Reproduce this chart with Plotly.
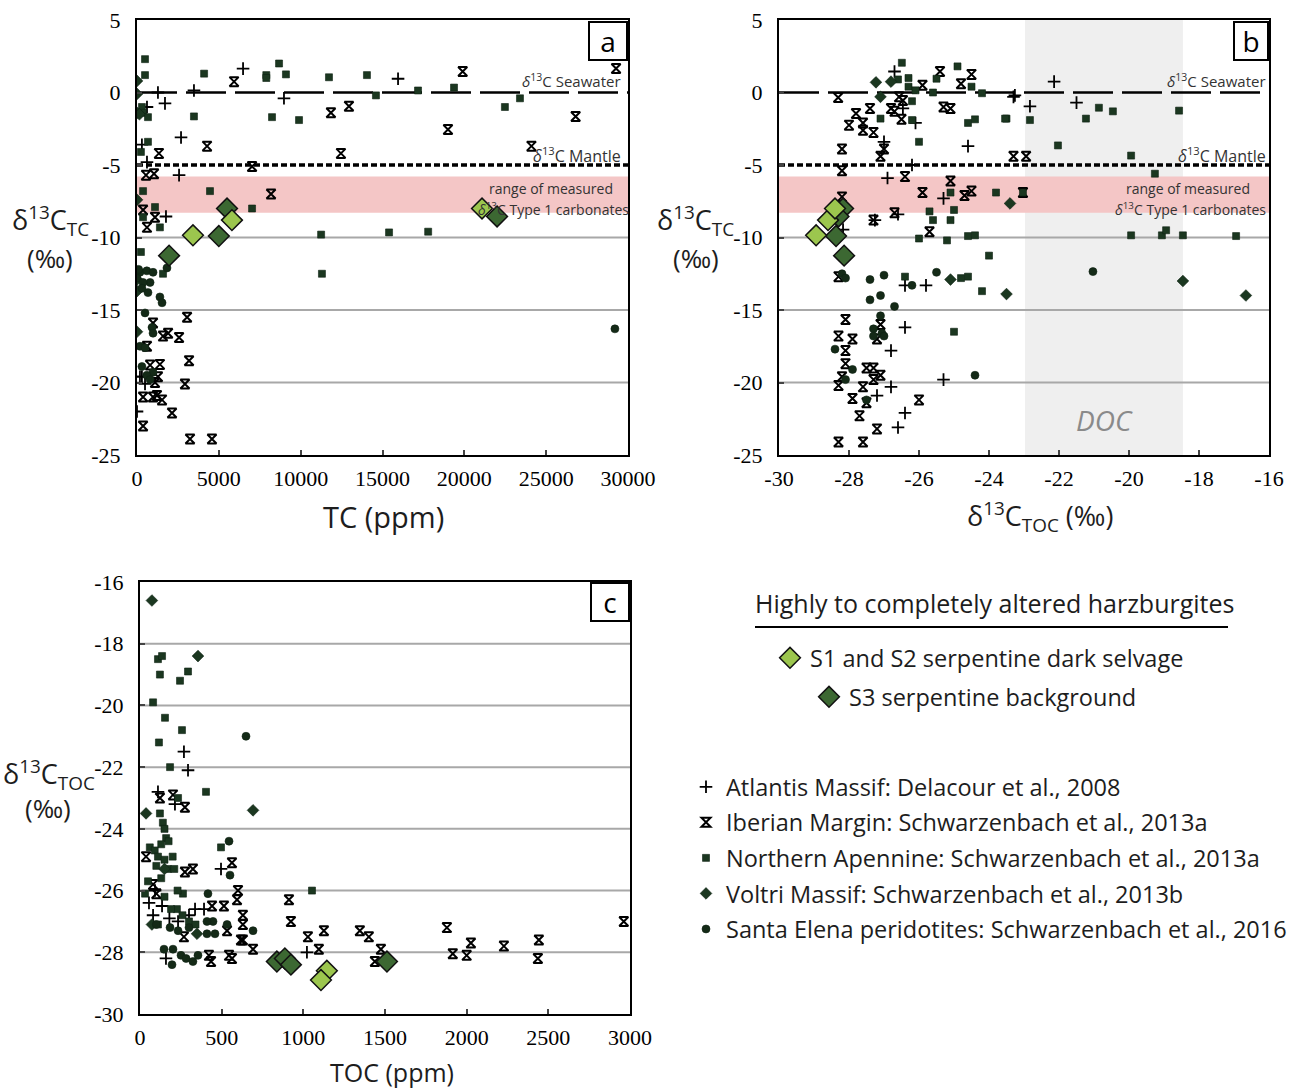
import plotly.graph_objects as go

# ---------------- DATA ----------------
# Panel a: TC (ppm) vs d13C_TC
a_atl_x = [6480, 3480, 1280, 1710, 8980, 15950, 2690, 300, 610, 2570, 1770, 300, 490, 0, 610, 180]
a_atl_y = [1.65, 0.14, 0.0, -0.75, -0.4, 0.95, -3.1, -3.6, -4.8, -5.7, -8.55, -19.6, -20.1, -22.0, -1.0, -19.6]
a_ibe_x = [5930, 11850, 12950, 4280, 1340, 12460, 7030, 550, 1040, 8190, 370, 1100, 610, 19900, 19000, 26800,
           29270, 24100, 3060, 1590, 1900, 2570, 3180, 800, 1400, 1280, 1100, 2930, 370, 980, 1220, 1530, 2140,
           370, 3240, 4580, 980, 610]
a_ibe_y = [0.75, -1.4, -0.95, -3.7, -4.2, -4.2, -5.1, -5.7, -5.6, -7.0, -8.1, -8.6, -9.3, 1.45, -2.55, -1.65,
           1.65, -3.7, -15.5, -16.8, -16.6, -16.9, -18.5, -18.8, -18.75, -19.6, -20.0, -20.1, -21.0, -21.0, -20.9,
           -21.2, -22.1, -23.0, -23.9, -23.9, -15.9, -17.5]
a_nap_x = [490, 490, 4100, 8680, 7900, 7900, 9100, 11730, 14050, 14600, 17170, 19370, 22480, 23400, 3480, 8250,
           9900, 300, 370, 670, 670, 240, 4460, 1100, 7030, 1400, 11250, 15400, 17790, 11300, 370, 370, 240, 1590]
a_nap_y = [2.3, 1.2, 1.3, 2.0, 1.2, 1.0, 1.25, 1.05, 1.2, -0.2, 0.14, 0.34, -1.0, -0.4, -1.65, -1.7,
           -1.9, -1.0, -1.4, -1.7, -3.4, -4.1, -6.8, -7.9, -8.0, -9.3, -9.8, -9.65, -9.6, -12.5, -6.8, -8.6, -11.0, -12.5]
a_vol_x = [0, 0, 0, 150, 0, 0, 0, 0]
a_vol_y = [0.8, -0.1, -1.4, -1.5, -7.4, -13.7, -16.5, -12.9]
a_sel_x = [1830, 180, 600, 980, 0, 800, 370, 670, 1400, 1530, 490, 920, 980, 180, 490, 300, 980, 29200, 600, 800, 100, 300]
a_sel_y = [-12.1, -12.4, -12.3, -12.4, -12.8, -13.1, -13.1, -13.8, -14.1, -14.5, -15.2, -16.2, -16.6, -17.5, -17.6,
           -18.9, -19.3, -16.3, -19.5, -19.8, -12.2, -13.5]
a_s12_x = [3420, 5800, 21080]
a_s12_y = [-9.85, -8.8, -8.0]
a_s3_x = [5000, 5500, 1960, 22000]
a_s3_y = [-9.9, -8.0, -11.25, -8.55]

# Panel b: d13C_TOC vs d13C_TC
b_atl_x = [-26.7, -26.46, -26.1, -27.0, -24.6, -23.3, -26.2, -26.9, -25.3, -26.6, -27.26, -26.4, -25.8, -26.4,
           -26.8, -26.8, -25.3, -27.2, -26.4, -26.6, -22.14, -23.26, -22.83, -21.5, -28.17]
b_atl_y = [1.45, -1.1, -2.1, -3.4, -3.7, -0.3, -5.0, -5.9, -7.3, -8.4, -8.8, -13.3, -13.3, -16.2,
           -17.8, -20.3, -19.8, -20.9, -22.1, -23.1, 0.75, -0.2, -0.95, -0.7, -9.45]
b_ibe_x = [-28.31, -25.9, -25.4, -24.8, -24.5, -26.57, -26.46, -25.3, -25.1, -26.8, -26.7, -27.4, -27.8, -28.0,
           -27.6, -27.6, -27.3, -26.5, -27.0, -27.1, -28.2, -23.3, -22.94, -28.2, -26.4, -25.1, -25.9, -24.7,
           -24.5, -28.2, -26.7, -27.3, -25.7, -28.3, -28.1, -27.1, -27.2, -28.3, -27.9, -28.1, -28.1, -27.5,
           -27.3, -27.1, -27.3, -28.2, -28.3, -27.6, -27.9, -27.5, -26.0, -27.7, -27.2, -28.3, -27.6, -23.03]
b_ibe_y = [-0.35, 0.5, 1.45, 0.6, 1.25, -0.3, -0.55, -1.0, -1.1, -1.1, -1.3, -1.1, -1.45, -2.25,
           -2.1, -2.6, -2.75, -1.85, -3.9, -4.4, -3.9, -4.4, -4.4, -5.4, -5.8, -6.1, -6.9, -7.1,
           -6.8, -7.2, -8.3, -8.8, -9.6, -12.7, -15.65, -16.0, -17.0, -16.8, -17.0, -17.8, -18.7, -19.0,
           -19.0, -19.5, -19.8, -19.6, -20.2, -20.3, -21.1, -21.4, -21.2, -22.3, -23.2, -24.1, -24.1, -6.9]
b_nap_x = [-26.49, -26.6, -26.3, -26.3, -26.1, -25.5, -24.9, -24.5, -25.6, -24.2, -26.2, -27.1, -26.2, -26.0,
           -24.6, -24.4, -23.5, -25.1, -23.8, -25.7, -25.0, -25.6, -25.1, -26.0, -25.2, -24.6, -24.4, -24.0,
           -26.4, -24.8, -24.6, -24.2, -25.0, -23.54, -22.83, -21.23, -20.86, -20.46, -18.57, -22.03, -19.94,
           -19.26, -23.03, -19.94, -19.06, -18.94, -18.46, -16.94]
b_nap_y = [2.05, 0.9, 1.0, 0.4, 0.15, 0.95, 1.8, 0.4, 0.0, -0.05, -0.6, -1.8, -1.9, -3.4,
           -2.1, -1.85, -1.8, -6.9, -6.9, -8.2, -8.1, -8.8, -8.8, -10.07, -10.2, -9.9, -9.85, -11.25,
           -12.7, -12.8, -12.7, -13.7, -16.5, -1.8, -1.9, -1.8, -1.05, -1.3, -1.25, -3.65, -4.35,
           -5.6, -6.9, -9.85, -9.85, -9.5, -9.85, -9.9]
b_vol_x = [-27.23, -26.8, -27.1, -25.1, -23.4, -23.5, -18.46, -16.66]
b_vol_y = [0.7, 0.75, -0.3, -12.9, -7.65, -13.9, -13.0, -14.0]
b_sel_x = [-28.2, -28.1, -27.4, -27.0, -26.2, -25.5, -27.4, -27.1, -26.7, -27.1, -27.3, -27.06, -27.3, -27.0,
           -28.4, -27.9, -28.1, -27.5, -24.4, -21.03]
b_sel_y = [-12.5, -12.8, -12.9, -12.6, -13.3, -12.4, -14.3, -14.0, -14.75, -15.4, -16.3, -16.6, -16.8, -16.8,
           -17.7, -19.1, -19.8, -21.2, -19.5, -12.35]
b_s12_x = [-28.94, -28.6, -28.4]
b_s12_y = [-9.85, -8.8, -8.0]
b_s3_x = [-28.37, -28.17, -28.14, -28.3]
b_s3_y = [-9.9, -8.0, -11.25, -8.55]

# Panel c: TOC (ppm) vs d13C_TOC
c_atl_x = [269, 294, 110, 214, 496, 92, 55, 135, 392, 80, 337, 233, 159, 1022, 180, 300]
c_atl_y = [-21.5, -22.1, -22.8, -23.2, -25.3, -26.0, -26.4, -26.5, -26.6, -26.8, -26.6, -27.0, -28.2, -28.0, -26.9, -26.8]
c_ibe_x = [122, 202, 275, 37, 563, 324, 275, 600, 594, 441, 514, 630, 630, 269, 533, 618, 630, 692, 422, 435,
           545, 563, 912, 924, 1028, 1126, 1095, 1346, 1401, 1475, 1438, 1879, 2026, 1915, 2000, 2228, 2442,
           2436, 2962, 80, 100]
c_ibe_y = [-23.0, -22.9, -23.3, -24.9, -25.1, -25.3, -25.4, -26.0, -26.3, -26.5, -26.5, -26.8, -27.1, -27.5,
           -27.3, -27.6, -27.6, -27.9, -28.1, -28.3, -28.1, -28.2, -26.3, -27.0, -27.5, -27.3, -27.9, -27.3,
           -27.5, -27.9, -28.3, -27.2, -27.7, -28.05, -28.1, -27.8, -27.6, -28.2, -27.0, -25.8, -26.1]
c_nap_x = [110, 135, 122, 245, 294, 80, 153, 257, 116, 184, 404, 233, 122, 1053, 496, 31, 49, 263, 226, 110,
           140, 150, 160, 130, 175, 60, 90, 110, 150, 200, 100, 170, 210, 130, 230, 150, 190, 260, 300, 340]
c_nap_y = [-18.5, -18.4, -19.0, -19.2, -18.9, -19.9, -20.4, -20.8, -21.2, -22.0, -22.8, -23.0, -23.5, -26.0,
           -24.6, -26.1, -25.7, -26.1, -26.6, -27.1, -23.8, -24.0, -24.3, -24.5, -24.4, -24.6, -24.7, -24.9,
           -25.0, -24.9, -25.2, -25.3, -25.3, -25.6, -26.0, -26.2, -26.6, -26.8, -27.0, -27.1]
c_vol_x = [73, 355, 692, 37, 73, 349, 150]
c_vol_y = [-16.6, -18.4, -23.4, -23.5, -27.1, -27.4, -25.3]
c_sel_x = [649, 545, 551, 416, 184, 233, 410, 459, 447, 410, 533, 692, 147, 202, 196, 251, 282, 324, 355, 100, 300]
c_sel_y = [-21.0, -24.4, -25.5, -26.1, -27.2, -27.3, -27.4, -27.4, -27.0, -27.0, -27.1, -27.3, -27.9, -27.9,
           -28.4, -28.1, -28.2, -28.3, -28.1, -27.1, -27.2]
c_s12_x = [1144, 1108]
c_s12_y = [-28.6, -28.9]
c_s3_x = [838, 887, 924, 1512]
c_s3_y = [-28.3, -28.2, -28.4, -28.3]

# tick labels
tc_ticks = [0, 5000, 10000, 15000, 20000, 25000, 30000]
tc_labels = ["0", "5000", "10000", "15000", "20000", "25000", "30000"]
dtc_ticks = [5, 0, -5, -10, -15, -20, -25]
dtc_labels = ["5", "0", "-5", "-10", "-15", "-20", "-25"]
dtoc_x_ticks = [-30, -28, -26, -24, -22, -20, -18, -16]
dtoc_x_labels = ["-30", "-28", "-26", "-24", "-22", "-20", "-18", "-16"]
toc_ticks = [0, 500, 1000, 1500, 2000, 2500, 3000]
toc_labels = ["0", "500", "1000", "1500", "2000", "2500", "3000"]
dtoc_y_ticks = [-16, -18, -20, -22, -24, -26, -28, -30]
dtoc_y_labels = ["-16", "-18", "-20", "-22", "-24", "-26", "-28", "-30"]

# reference values
seawater = 0
mantle = -5
type1_range = [-8.3, -5.8]
doc_range = [-22.97, -18.46]
grid_a = [-10, -15, -20]
grid_c = [-18, -20, -22, -24, -26, -28]

names = ["Atlantis Massif: Delacour et al., 2008",
         "Iberian Margin: Schwarzenbach et al., 2013a",
         "Northern Apennine: Schwarzenbach et al., 2013a",
         "Voltri Massif: Schwarzenbach et al., 2013b",
         "Santa Elena peridotites: Schwarzenbach et al., 2016"]
s12_name = "S1 and S2 serpentine dark selvage"
s3_name = "S3 serpentine background"

# ---------------- STYLE / LAYOUT ----------------
W, H = 1300, 1090
def px(x): return x / W
def py(y): return 1 - y / H

SANS = "Open Sans"
SERIF = "Liberation Serif"
DARK = "#1b3720"
TXT = "#1d1d1d"

styles = [
    dict(symbol="cross-thin-open", size=9, line=dict(color="black", width=1.8), color="black"),
    dict(symbol="hourglass-open", size=9, line=dict(color="black", width=2), color="black"),
    dict(symbol="square", size=7, color=DARK, line=dict(color="#0e2212", width=0.6)),
    dict(symbol="diamond", size=9, color=DARK, line=dict(color="#0e2212", width=0.6)),
    dict(symbol="circle", size=8, color="#142a17", line=dict(color="#0e2212", width=0.6)),
]
s12_style = dict(symbol="diamond", size=16, color="#9cc64e", line=dict(color="#111", width=1.5))
s3_style = dict(symbol="diamond", size=16, color="#3c6832", line=dict(color="#111", width=1.5))

fig = go.Figure()

panels = [
    ("x", "y", [(a_atl_x, a_atl_y), (a_ibe_x, a_ibe_y), (a_nap_x, a_nap_y), (a_vol_x, a_vol_y), (a_sel_x, a_sel_y)],
     (a_s12_x, a_s12_y), (a_s3_x, a_s3_y)),
    ("x2", "y2", [(b_atl_x, b_atl_y), (b_ibe_x, b_ibe_y), (b_nap_x, b_nap_y), (b_vol_x, b_vol_y), (b_sel_x, b_sel_y)],
     (b_s12_x, b_s12_y), (b_s3_x, b_s3_y)),
    ("x3", "y3", [(c_atl_x, c_atl_y), (c_ibe_x, c_ibe_y), (c_nap_x, c_nap_y), (c_vol_x, c_vol_y), (c_sel_x, c_sel_y)],
     (c_s12_x, c_s12_y), (c_s3_x, c_s3_y)),
]

for pi, (xa, ya, series, s12, s3) in enumerate(panels):
    first = pi == 0
    for si, (sx, sy) in enumerate(series):
        fig.add_trace(go.Scatter(x=sx, y=sy, xaxis=xa, yaxis=ya, mode="markers", marker=styles[si],
                                 name=names[si], showlegend=first, legend="legend3",
                                 legendgroup="g%d" % si))
    fig.add_trace(go.Scatter(x=s3[0], y=s3[1], xaxis=xa, yaxis=ya, mode="markers", marker=s3_style,
                             name=s3_name, showlegend=first, legend="legend2"))
    fig.add_trace(go.Scatter(x=s12[0], y=s12[1], xaxis=xa, yaxis=ya, mode="markers", marker=s12_style,
                             name=s12_name, showlegend=first, legend="legend"))

def axis(domain, rng, tv, tt, anchor, standoff):
    return dict(domain=domain, range=rng, anchor=anchor, tickvals=tv, ticktext=tt,
                showgrid=False, zeroline=False, showline=True, linecolor="black", linewidth=2, mirror=True,
                ticks="inside", ticklen=5, tickwidth=1.5, tickcolor="#444", automargin=False,
                tickfont=dict(family=SERIF, size=22, color="black"), ticklabelstandoff=standoff)

LEG_FONT = dict(family=SANS, size=23.5, color=TXT)
fig.update_layout(
    width=W, height=H, autosize=False,
    margin=dict(l=0, r=0, t=0, b=0, pad=0, autoexpand=False),
    paper_bgcolor="white", plot_bgcolor="white",
    xaxis=axis([px(137), px(628)], [0, 30000], tc_ticks, tc_labels, "y", 3),
    yaxis=axis([py(455), py(20)], [-25, 5], dtc_ticks, dtc_labels, "x", 10),
    xaxis2=axis([px(779), px(1269)], [-30, -16], dtoc_x_ticks, dtoc_x_labels, "y2", 3),
    yaxis2=axis([py(455), py(20)], [-25, 5], dtc_ticks, dtc_labels, "x2", 10),
    xaxis3=axis([px(140), px(630)], [0, 3000], toc_ticks, toc_labels, "y3", 3),
    yaxis3=axis([py(1014), py(582)], [-30, -16], dtoc_y_ticks, dtoc_y_labels, "x3", 10),
    legend=dict(x=px(770), y=py(636), xanchor="left", yanchor="top", bgcolor="rgba(0,0,0,0)", font=LEG_FONT),
    legend2=dict(x=px(809), y=py(675), xanchor="left", yanchor="top", bgcolor="rgba(0,0,0,0)", font=LEG_FONT),
    legend3=dict(x=px(686), y=py(765), xanchor="left", yanchor="top", bgcolor="rgba(0,0,0,0)", font=LEG_FONT,
                 tracegroupgap=2, traceorder="grouped"),
)

shapes = []
# Panel b DOC band
shapes.append(dict(type="rect", xref="x2", yref="y2 domain", x0=doc_range[0], x1=doc_range[1], y0=0, y1=1,
                   fillcolor="#efefef", line=dict(width=0), layer="below"))
for xr, yr in [("x", "y"), ("x2", "y2")]:
    shapes.append(dict(type="rect", xref=xr + " domain", yref=yr, x0=0, x1=1, y0=type1_range[0], y1=type1_range[1],
                       fillcolor="#f4c6c6", line=dict(width=0), layer="below"))
    for g in grid_a:
        shapes.append(dict(type="line", xref=xr + " domain", yref=yr, x0=0, x1=1, y0=g, y1=g,
                           line=dict(color="#a8a8a8", width=2), layer="below"))
    shapes.append(dict(type="line", xref=xr + " domain", yref=yr, x0=0, x1=1, y0=seawater, y1=seawater,
                       line=dict(color="black", width=2.5, dash="40px,9px"), layer="below"))
    shapes.append(dict(type="line", xref=xr + " domain", yref=yr, x0=0, x1=1, y0=mantle, y1=mantle,
                       line=dict(color="black", width=3.5, dash="6px,3px"), layer="below"))
for g in grid_c:
    shapes.append(dict(type="line", xref="x3 domain", yref="y3", x0=0, x1=1, y0=g, y1=g,
                       line=dict(color="#a8a8a8", width=2), layer="below"))
# legend header underline
shapes.append(dict(type="line", xref="paper", yref="paper", x0=px(755), x1=px(1228), y0=py(627), y1=py(627),
                   line=dict(color="black", width=2)))
fig.update_layout(shapes=shapes)

ann = []
def A(text, x, y, size, xanchor="center", color=TXT, family=SANS, **kw):
    ann.append(dict(text=text, x=px(x), y=py(y), xref="paper", yref="paper", xanchor=xanchor, yanchor="middle",
                    showarrow=False, font=dict(family=family, size=size, color=color), **kw))

# axis titles
A("TC (ppm)", 383, 516, 29)
A("δ<sup>13</sup>C<sub>TOC</sub> (‰)", 1040, 516, 27)
A("TOC (ppm)", 392, 1072, 25)
A("δ<sup>13</sup>C<sub>TC</sub>", 50, 221, 27)
A("(‰)", 50, 258, 26)
A("δ<sup>13</sup>C<sub>TC</sub>", 695, 221, 27)
A("(‰)", 696, 258, 26)
A("δ<sup>13</sup>C<sub>TOC</sub>", 49, 774, 27)
A("(‰)", 48, 808, 26)
# reference line labels
for right, cx in [(623, 551), (1268, 1188)]:
    A("<i>δ</i><sup>13</sup>C Seawater", right, 80, 15, xanchor="right", color="#333")
    A("<i>δ</i><sup>13</sup>C Mantle", right, 155, 16, xanchor="right", color="#333")
    A("range of measured", cx, 189, 14, color="#333")
    A("<i>δ</i><sup>13</sup>C Type 1 carbonates", cx + 2, 209, 14, color="#333")
A("<i>DOC</i>", 1104, 420, 28, color="#8a8a8a")
# legend header
A("Highly to completely altered harzburgites", 994, 603, 25)
# panel letters
for letter, right, top, w in [("a", 628, 21, 38), ("b", 1269, 21, 34), ("c", 630, 582, 38)]:
    ann.append(dict(text=letter, x=px(right), y=py(top), xref="paper", yref="paper", xanchor="right",
                    yanchor="top", showarrow=False, font=dict(family=SANS, size=28, color="black"),
                    bordercolor="black", borderwidth=2, bgcolor="white", width=w - 4, height=34))
fig.update_layout(annotations=ann)

fig.write_html("out.html", config={"displayModeBar": False},
               post_script="document.body.style.margin='0px';")
